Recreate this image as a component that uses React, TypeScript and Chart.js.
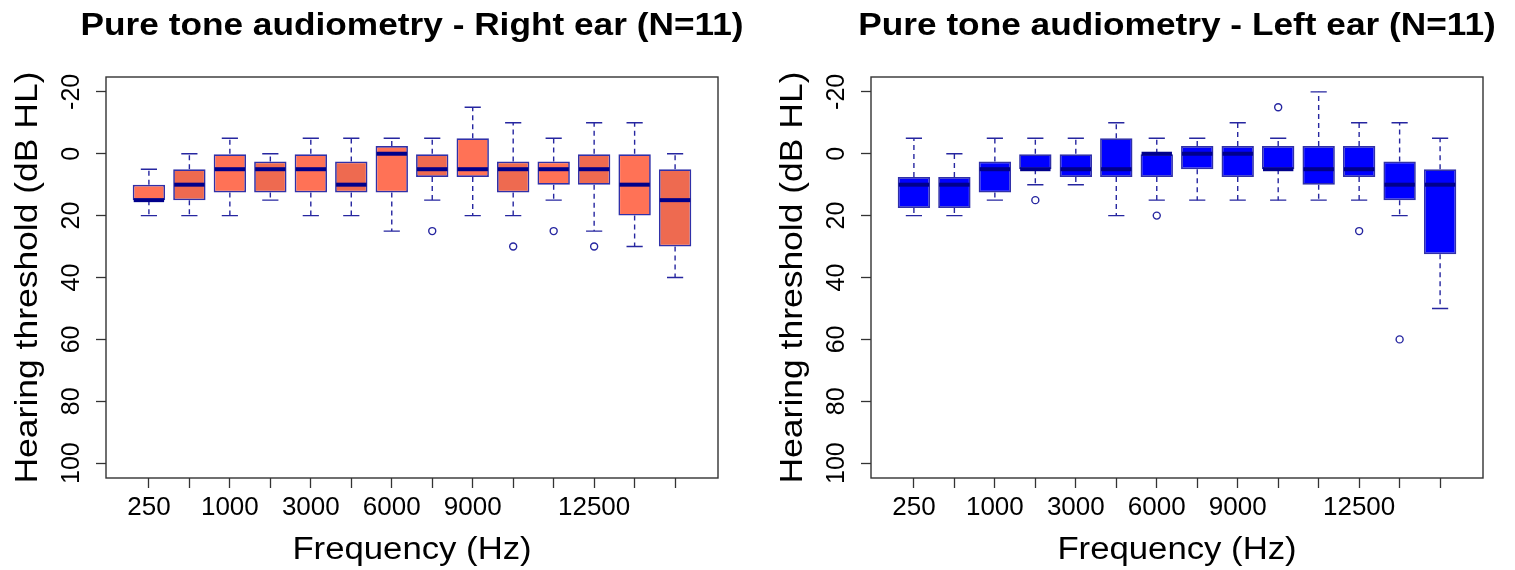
import React, { useEffect, useRef } from 'react';
import { Chart, registerables } from 'chart.js';

Chart.register(...registerables);

// ---------- data ----------
const frequencies = ['250', '500', '1000', '2000', '3000', '4000', '6000', '8000', '9000', '10000', '11200', '12500', '14000', '16000'];
const shownTickLabels = ['250', '', '1000', '', '3000', '', '6000', '', '9000', '', '', '12500', '', ''];
const yTickValues = [-20, 0, 20, 40, 60, 80, 100];

// Right ear (dB HL)
const rightWhiskerLow = [5, 0, -5, 0, -5, -5, -5, -5, -15, -10, -5, -10, -10, 0];
const rightQ1 = [10, 5, 0, 2.5, 0, 2.5, -2.5, 0, -5, 2.5, 2.5, 0, 0, 5];
const rightMedian = [15, 10, 5, 5, 5, 10, 0, 5, 5, 5, 5, 5, 10, 15];
const rightQ3 = [15, 15, 12.5, 12.5, 12.5, 12.5, 12.5, 7.5, 7.5, 12.5, 10, 10, 20, 30];
const rightWhiskerHigh = [20, 20, 20, 15, 20, 20, 25, 15, 20, 20, 15, 25, 30, 40];
const rightOutlierPos = [8, 10, 11, 12];
const rightOutlierVal = [25, 30, 25, 30];

// Left ear (dB HL)
const leftWhiskerLow = [-5, 0, -5, -5, -5, -10, -5, -5, -10, -5, -20, -10, -10, -5];
const leftQ1 = [7.5, 7.5, 2.5, 0, 0, -5, 0, -2.5, -2.5, -2.5, -2.5, -2.5, 2.5, 5];
const leftMedian = [10, 10, 5, 5, 5, 5, 0, 0, 0, 5, 5, 5, 10, 10];
const leftQ3 = [17.5, 17.5, 12.5, 5, 7.5, 7.5, 7.5, 5, 7.5, 5, 10, 7.5, 15, 32.5];
const leftWhiskerHigh = [20, 20, 15, 10, 10, 20, 15, 15, 15, 15, 15, 15, 20, 50];
const leftOutlierPos = [4, 7, 10, 12, 13];
const leftOutlierVal = [15, 20, -15, 25, 60];

// ---------- styles ----------
const FONT = '"Liberation Sans", Arial, sans-serif';
const LINE_BLUE = '#2626a0';
const BOX_BORDER = '#3030a8';
const MEDIAN_COLOR = '#00008B';
const FRAME = '#333333';

type Panel = {
  title: string;
  lo: number[];
  q1: number[];
  med: number[];
  q3: number[];
  hi: number[];
  outPos: number[];
  outVal: number[];
  colors: string[];
};

const rightPanel: Panel = {
  title: 'Pure tone audiometry - Right ear (N=11)',
  lo: rightWhiskerLow, q1: rightQ1, med: rightMedian, q3: rightQ3, hi: rightWhiskerHigh,
  outPos: rightOutlierPos, outVal: rightOutlierVal,
  colors: frequencies.map((_, i) => (i % 2 === 0 ? '#FF7256' : '#EE6A50')),
};

const leftPanel: Panel = {
  title: 'Pure tone audiometry - Left ear (N=11)',
  lo: leftWhiskerLow, q1: leftQ1, med: leftMedian, q3: leftQ3, hi: leftWhiskerHigh,
  outPos: leftOutlierPos, outVal: leftOutlierVal,
  colors: frequencies.map(() => '#0000FF'),
};

function stretchedText(ctx: CanvasRenderingContext2D, text: string, x: number, y: number, font: string, sx: number, rot = 0) {
  ctx.save();
  ctx.translate(x, y);
  if (rot) ctx.rotate(rot);
  ctx.scale(sx, 1);
  ctx.font = font;
  ctx.textAlign = 'center';
  ctx.textBaseline = 'alphabetic';
  ctx.fillStyle = '#000';
  ctx.fillText(text, 0, 0);
  ctx.restore();
}

function makeConfig(p: Panel): any {
  const positions = frequencies.map((_, i) => i + 1);
  const extras = {
    id: 'boxExtras',
    beforeDatasetsDraw(chart: any) {
      const ctx = chart.ctx;
      const xs = chart.scales.x;
      const ys = chart.scales.y;
      const meta = chart.getDatasetMeta(0);
      ctx.save();
      ctx.strokeStyle = LINE_BLUE;
      ctx.lineWidth = 1.4;
      positions.forEach((pos, i) => {
        const x = xs.getPixelForValue(pos);
        const w = meta.data[i].width;
        ctx.setLineDash([5, 4]);
        ctx.beginPath();
        ctx.moveTo(x, ys.getPixelForValue(p.q1[i]));
        ctx.lineTo(x, ys.getPixelForValue(p.lo[i]));
        ctx.moveTo(x, ys.getPixelForValue(p.q3[i]));
        ctx.lineTo(x, ys.getPixelForValue(p.hi[i]));
        ctx.stroke();
        ctx.setLineDash([]);
        ctx.beginPath();
        ctx.moveTo(x - w / 4, ys.getPixelForValue(p.lo[i]));
        ctx.lineTo(x + w / 4, ys.getPixelForValue(p.lo[i]));
        ctx.moveTo(x - w / 4, ys.getPixelForValue(p.hi[i]));
        ctx.lineTo(x + w / 4, ys.getPixelForValue(p.hi[i]));
        ctx.stroke();
      });
      ctx.restore();
    },
    afterDatasetsDraw(chart: any) {
      const ctx = chart.ctx;
      const xs = chart.scales.x;
      const ys = chart.scales.y;
      const meta = chart.getDatasetMeta(0);
      ctx.save();
      ctx.strokeStyle = MEDIAN_COLOR;
      ctx.lineWidth = 4;
      positions.forEach((pos, i) => {
        const x = xs.getPixelForValue(pos);
        const w = meta.data[i].width;
        const y = ys.getPixelForValue(p.med[i]);
        ctx.beginPath();
        ctx.moveTo(x - w / 2 + 1, y);
        ctx.lineTo(x + w / 2 - 1, y);
        ctx.stroke();
      });
      ctx.restore();
    },
    afterDraw(chart: any) {
      const ctx = chart.ctx;
      const a = chart.chartArea;
      ctx.save();
      ctx.strokeStyle = FRAME;
      ctx.lineWidth = 1.4;
      ctx.strokeRect(a.left, a.top, a.right - a.left, a.bottom - a.top);
      ctx.restore();
      const cx = (a.left + a.right) / 2;
      const cy = (a.top + a.bottom) / 2;
      stretchedText(ctx, p.title, cx, 35, `bold 31px ${FONT}`, 1.137);
      stretchedText(ctx, 'Frequency (Hz)', cx, 559, `31px ${FONT}`, 1.12);
      stretchedText(ctx, 'Hearing threshold (dB HL)', 37, cy, `31px ${FONT}`, 1.144, -Math.PI / 2);
    },
  };

  return {
    type: 'bar',
    data: {
      datasets: [
        {
          type: 'bar',
          data: positions.map((x, i) => ({ x, y: [p.q1[i], p.q3[i]] })),
          backgroundColor: p.colors,
          borderColor: BOX_BORDER,
          borderWidth: 1.7,
          borderSkipped: false,
          barPercentage: 0.8,
          categoryPercentage: 1,
          order: 2,
        },
        {
          type: 'scatter',
          data: p.outPos.map((x, i) => ({ x, y: p.outVal[i] })),
          pointRadius: 3.5,
          pointBorderWidth: 1.4,
          pointBorderColor: LINE_BLUE,
          pointBackgroundColor: '#ffffff',
          order: 1,
        },
      ],
    },
    options: {
      responsive: false,
      animation: false,
      events: [],
      layout: { padding: { left: 0, right: 32, top: 77, bottom: 0 } },
      plugins: { legend: { display: false }, tooltip: { enabled: false }, title: { display: false } },
      scales: {
        x: {
          type: 'linear',
          min: -0.06,
          max: 15.06,
          offset: false,
          afterBuildTicks: (s: any) => { s.ticks = positions.map((v) => ({ value: v })); },
          afterFit: (s: any) => { s.height = 92; },
          ticks: {
            autoSkip: false,
            minRotation: 0,
            maxRotation: 0,
            padding: 4,
            color: '#000',
            font: { family: FONT, size: 26 },
            callback: (_v: any, i: number) => shownTickLabels[i] ?? '',
          },
          grid: { display: true, drawOnChartArea: false, drawTicks: true, tickLength: 10, tickColor: FRAME, tickWidth: 1.3, offset: false },
          border: { display: false },
        },
        y: {
          type: 'linear',
          min: -24.8,
          max: 104.8,
          reverse: true,
          afterBuildTicks: (s: any) => { s.ticks = yTickValues.map((v) => ({ value: v })); },
          afterFit: (s: any) => { s.width = 106; },
          ticks: {
            minRotation: 90,
            maxRotation: 90,
            crossAlign: 'center',
            padding: 3,
            color: '#000',
            font: { family: FONT, size: 25 },
          },
          grid: { display: true, drawOnChartArea: false, drawTicks: true, tickLength: 10, tickColor: FRAME, tickWidth: 1.3 },
          border: { display: false },
        },
      },
    },
    plugins: [extras],
  };
}

function BoxPanel({ panel, left, width }: { panel: Panel; left: number; width: number }) {
  const ref = useRef<HTMLCanvasElement | null>(null);
  useEffect(() => {
    if (!ref.current) return;
    const chart = new Chart(ref.current, makeConfig(panel));
    return () => chart.destroy();
  }, [panel]);
  return (
    <canvas
      ref={ref}
      width={width}
      height={570}
      style={{ position: 'absolute', left, top: 0, width, height: 570 }}
    />
  );
}

export default function App() {
  return (
    <div style={{ position: 'absolute', left: 0, top: 0, width: 1515, height: 570, background: '#fff' }}>
      <BoxPanel panel={rightPanel} left={0} width={750} />
      <BoxPanel panel={leftPanel} left={765} width={750} />
    </div>
  );
}
